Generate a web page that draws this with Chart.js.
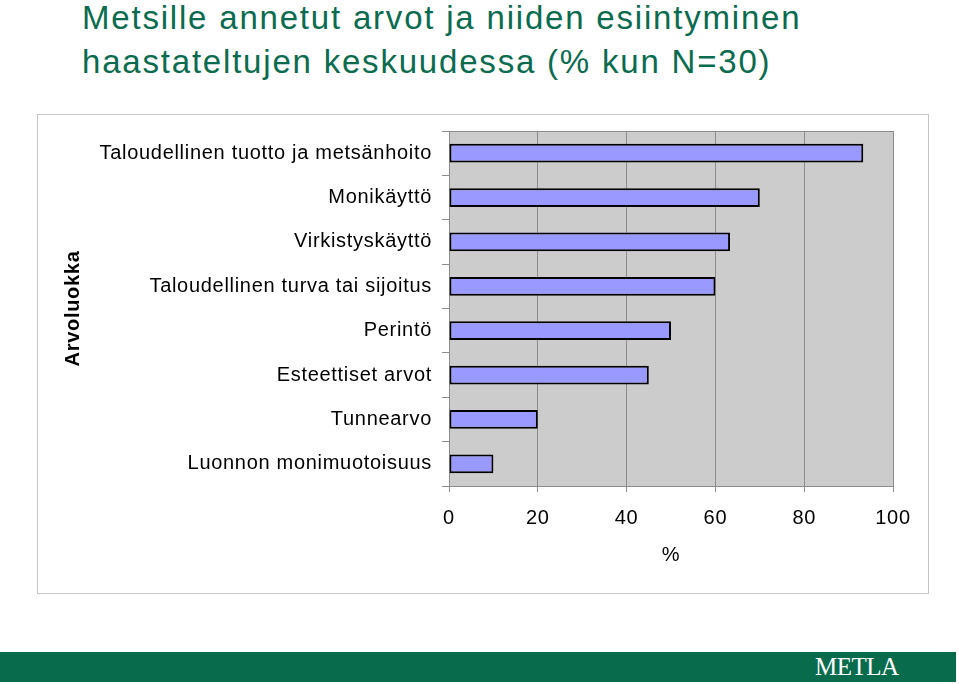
<!DOCTYPE html>
<html>
<head>
<meta charset="utf-8">
<script src="https://cdn.jsdelivr.net/npm/chart.js@4.4.1/dist/chart.umd.min.js"></script>
<style>
  body { margin: 0; background: #fff; font-family: "Liberation Sans", Arial, sans-serif; }
  #page { position: relative; width: 959px; height: 684px; overflow: hidden; }
  #title { position: absolute; left: 82px; top: -4px; color: #0a6b4f; font-size: 33px; line-height: 44px; letter-spacing: 1.8px; white-space: nowrap; }
  #frame { position: absolute; left: 37px; top: 114px; width: 890px; height: 478px; border: 1px solid #c4c4c4; }
  #frame canvas { position: absolute; left: 0; top: 0; }
  #band { position: absolute; left: 0; top: 652px; width: 956px; height: 30px; background: #076b4c; }
  #logo { position: absolute; left: 815px; top: 652px; height: 30px; line-height: 30px; color: #fff; font-family: "Liberation Serif", "Times New Roman", serif; font-size: 25px; letter-spacing: -0.5px; }
</style>
</head>
<body>
<div id="page">
  <div id="title">Metsille annetut arvot ja niiden esiintyminen<br>haastateltujen keskuudessa (% kun N=30)</div>
  <div id="frame"><canvas id="myChart" width="890" height="478"></canvas></div>
  <div id="band"></div>
  <div id="logo">METLA</div>
</div>
<script>
// value classes, top to bottom
const categories = [
    'Taloudellinen tuotto ja metsänhoito',
    'Monikäyttö',
    'Virkistyskäyttö',
    'Taloudellinen turva tai sijoitus',
    'Perintö',
    'Esteettiset arvot',
    'Tunnearvo',
    'Luonnon monimuotoisuus'
];
// share of interviewees (%), N=30
const shares = [93.3, 70, 63.3, 60, 50, 45, 20, 10];
const xTicks = [0, 20, 40, 60, 80, 100];

// the original text is set a little wider than Arial
const spacing = {
    id: 'spacing',
    beforeUpdate(chart) { chart.ctx.letterSpacing = '0.7px'; },
    beforeDraw(chart) { chart.ctx.letterSpacing = '0.7px'; }
};

const plotBg = {
    id: 'plotBg',
    beforeDraw(chart) {
        const a = chart.chartArea, c = chart.ctx;
        c.save();
        c.fillStyle = '#cccccc';
        c.fillRect(a.left, a.top, a.right - a.left, a.bottom - a.top);
        c.restore();
    },
    afterDatasetsDraw(chart) {
        const a = chart.chartArea, c = chart.ctx;
        c.save();
        c.strokeStyle = '#8c8c8c';
        c.lineWidth = 1;
        c.beginPath();
        c.moveTo(a.left, a.top + 0.5);
        c.lineTo(a.right + 0.5, a.top + 0.5);
        c.lineTo(a.right + 0.5, a.bottom);
        c.stroke();
        c.restore();
    }
};

const ctx = document.getElementById('myChart').getContext('2d');
const valueChart = new Chart(ctx, {
    type: 'bar',
    data: {
        labels: categories,
        datasets: [{
            data: shares,
            backgroundColor: '#9999ff',
            borderColor: '#000000',
            borderWidth: 2,
            borderSkipped: false,
            barPercentage: 0.42,
            categoryPercentage: 1
        }]
    },
    options: {
        indexAxis: 'y',
        responsive: false,
        animation: false,
        layout: { padding: { left: 0, right: 35, top: 16, bottom: 0 } },
        plugins: {
            legend: { display: false },
            tooltip: { enabled: false }
        },
        scales: {
            x: {
                min: 0,
                max: 100,
                afterBuildTicks(scale) {
                    scale.ticks = xTicks.map(v => ({ value: v }));
                },
                afterFit(scale) { scale.height = 107; },
                grid: { color: '#8c8c8c', tickLength: 6, lineWidth: 1 },
                border: { color: '#8c8c8c' },
                ticks: {
                    color: '#000',
                    padding: 14,
                    maxRotation: 0,
                    font: { family: 'Liberation Sans', size: 20 }
                },
                title: {
                    display: true,
                    text: '%',
                    color: '#000',
                    padding: { top: 0, bottom: 26 },
                    font: { family: 'Liberation Sans', size: 20 }
                }
            },
            y: {
                afterFit(scale) {
                    scale.width = 411;
                    scale.paddingTop = 0;
                    scale.paddingBottom = 0;
                },
                grid: { drawOnChartArea: false, color: '#8c8c8c', tickLength: 7 },
                border: { color: '#8c8c8c' },
                ticks: {
                    color: '#000',
                    padding: 10,
                    font: { family: 'Liberation Sans', size: 20 }
                },
                title: {
                    display: true,
                    text: 'Arvoluokka',
                    color: '#000',
                    padding: { top: 23, bottom: 0 },
                    font: { family: 'Liberation Sans', size: 20, weight: 'bold' }
                }
            }
        }
    },
    plugins: [spacing, plotBg]
});
</script>
</body>
</html>
